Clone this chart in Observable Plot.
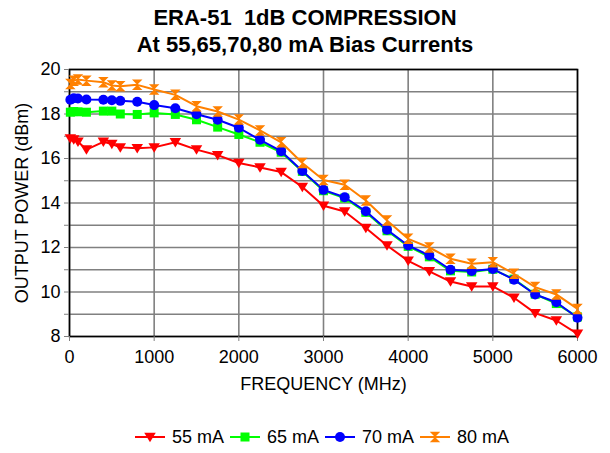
<!DOCTYPE html>
<html>
<head>
<meta charset="utf-8">
<script src="https://cdn.jsdelivr.net/npm/d3@7"></script>
<script src="https://cdn.jsdelivr.net/npm/@observablehq/plot@0.6"></script>
<style>
  body { margin: 0; background: #fff; font-family: "Liberation Sans", Arial, sans-serif; color: #000; }
  #wrap { width: 610px; }
  #title { height: 57px; padding-top: 4px; box-sizing: border-box; text-align: center; font-weight: bold; font-size: 22px; line-height: 27px; }
  #chart svg { display: block; }
  #legend { margin-top: 24px; height: 22px; display: flex; justify-content: center; align-items: center; padding-left: 34px; font-size: 18px; }
  .item { display: flex; align-items: center; margin: 0 3px; }
  .item svg { margin-right: 7px; }
</style>
</head>
<body>
<div id="wrap">
  <div id="title"><div>ERA-51&nbsp; 1dB COMPRESSION</div><div>At 55,65,70,80 mA Bias Currents</div></div>
  <div id="chart"></div>
  <div id="legend"></div>
</div>
<script>
// ---- data ----
const freqMHz = [10, 50, 100, 200, 400, 500, 600, 800, 1000, 1250, 1500, 1750, 2000, 2250, 2500, 2750, 3000, 3250, 3500, 3750, 4000, 4250, 4500, 4750, 5000, 5250, 5500, 5750, 6000];
const power55mA = [16.9, 16.85, 16.75, 16.4, 16.75, 16.65, 16.5, 16.46, 16.5, 16.73, 16.4, 16.15, 15.8, 15.6, 15.39, 14.72, 13.88, 13.62, 12.88, 12.09, 11.4, 10.93, 10.47, 10.25, 10.25, 9.74, 9.05, 8.72, 8.12];
const power65mA = [18.08, 18.11, 18.1, 18.08, 18.13, 18.13, 18.0, 17.98, 18.05, 17.98, 17.74, 17.41, 17.08, 16.73, 16.28, 15.42, 14.55, 14.22, 13.58, 12.75, 12.05, 11.58, 10.95, 10.9, 11.02, 10.58, 9.9, 9.48, 8.88];
const power70mA = [18.64, 18.71, 18.7, 18.65, 18.64, 18.62, 18.59, 18.55, 18.4, 18.26, 17.99, 17.74, 17.38, 16.84, 16.33, 15.44, 14.59, 14.26, 13.63, 12.8, 12.09, 11.64, 11.0, 10.94, 11.03, 10.55, 9.89, 9.54, 8.84];
const power80mA = [19.35, 19.5, 19.55, 19.5, 19.43, 19.28, 19.25, 19.31, 19.1, 18.86, 18.35, 18.11, 17.75, 17.26, 16.73, 15.8, 15.03, 14.82, 14.11, 13.21, 12.39, 12.0, 11.49, 11.27, 11.34, 10.82, 10.22, 9.89, 9.24];
const seriesNames = ["55 mA", "65 mA", "70 mA", "80 mA"];
const seriesColors = ["#FF0000", "#00FF00", "#0000FF", "#FF8000"];
const xTicks = [0, 1000, 2000, 3000, 4000, 5000, 6000];
const yTicks = [8, 10, 12, 14, 16, 18, 20];
const yGridLines = [8, 9, 10, 11, 12, 13, 14, 15, 16, 17, 18, 19, 20];
const xTitle = "FREQUENCY (MHz)";
const yTitle = "OUTPUT POWER (dBm)";

// ---- symbols ----
const triDown = { draw(ctx, size) { const r = Math.sqrt(size / Math.PI); ctx.moveTo(-1.15 * r, -0.85 * r); ctx.lineTo(1.15 * r, -0.85 * r); ctx.lineTo(0, 1.05 * r); ctx.closePath(); } };
const squareSym = { draw(ctx, size) { const r = Math.sqrt(size / Math.PI) * 0.9; ctx.rect(-r, -r, 2 * r, 2 * r); } };
const circleSym = { draw(ctx, size) { const r = Math.sqrt(size / Math.PI); ctx.moveTo(r, 0); ctx.arc(0, 0, r, 0, 2 * Math.PI); } };
const hourglass = { draw(ctx, size) { const r = Math.sqrt(size / Math.PI) * 1.05; ctx.moveTo(-r, -r); ctx.lineTo(r, -r); ctx.lineTo(-r, r); ctx.lineTo(r, r); ctx.closePath(); } };
const seriesSymbols = [triDown, squareSym, circleSym, hourglass];
const seriesValues = [power55mA, power65mA, power70mA, power80mA];

const rows = seriesNames.flatMap((name, i) => freqMHz.map((f, j) => ({ freq: f, power: seriesValues[i][j], series: name })));

const seriesMarks = seriesNames.flatMap((name, i) => {
  const d = rows.filter(r => r.series === name);
  return [
    Plot.line(d, { x: "freq", y: "power", stroke: seriesColors[i], strokeWidth: 2 }),
    Plot.dot(d, { x: "freq", y: "power", symbol: () => seriesSymbols[i], r: 5, fill: seriesColors[i], stroke: "none" })
  ];
});

const chart = Plot.plot({
  width: 610,
  height: 345,
  marginLeft: 69,
  marginRight: 33,
  marginTop: 12,
  marginBottom: 66,
  style: { fontFamily: '"Liberation Sans", Arial, sans-serif', fontSize: "18px", color: "#000", background: "#fff" },
  x: { domain: [0, 6000], label: null },
  y: { domain: [8, 20], label: null },
  symbol: { type: "identity" },
  marks: [
    Plot.gridY(yGridLines, { stroke: "#808080", strokeOpacity: 1, strokeWidth: 1.6 }),
    Plot.gridX(xTicks, { stroke: "#808080", strokeOpacity: 1, strokeWidth: 1.6 }),
    Plot.frame({ stroke: "#000", strokeWidth: 1.6 }),
    Plot.axisY(yGridLines, { tickSize: 5, tickPadding: 4, stroke: "#808080", fill: "#000", fontSize: 18, label: null, tickFormat: d => yTicks.includes(d) ? String(d) : "" }),
    Plot.axisX(xTicks, { tickSize: 5, tickPadding: 9, stroke: "#808080", fill: "#000", fontSize: 18, label: null, tickFormat: d => String(d) }),
    Plot.text([xTitle], { text: d => d, frameAnchor: "bottom", lineAnchor: "middle", dy: 48, fontSize: 18 }),
    Plot.text([yTitle], { text: d => d, frameAnchor: "left", lineAnchor: "middle", textAnchor: "middle", rotate: -90, dx: -47, fontSize: 18 }),
    ...seriesMarks
  ]
});
document.getElementById("chart").appendChild(chart);

// ---- legend ----
const legend = d3.select("#legend");
seriesNames.forEach((name, i) => {
  const item = legend.append("div").attr("class", "item");
  const svg = item.append("svg").attr("width", 30).attr("height", 14);
  svg.append("line").attr("x1", 0).attr("x2", 30).attr("y1", 7).attr("y2", 7).attr("stroke", seriesColors[i]).attr("stroke-width", 2);
  svg.append("path").attr("transform", "translate(15,7)").attr("d", d3.symbol(seriesSymbols[i], Math.PI * 25)()).attr("fill", seriesColors[i]);
  item.append("span").text(name);
});
</script>
</body>
</html>
